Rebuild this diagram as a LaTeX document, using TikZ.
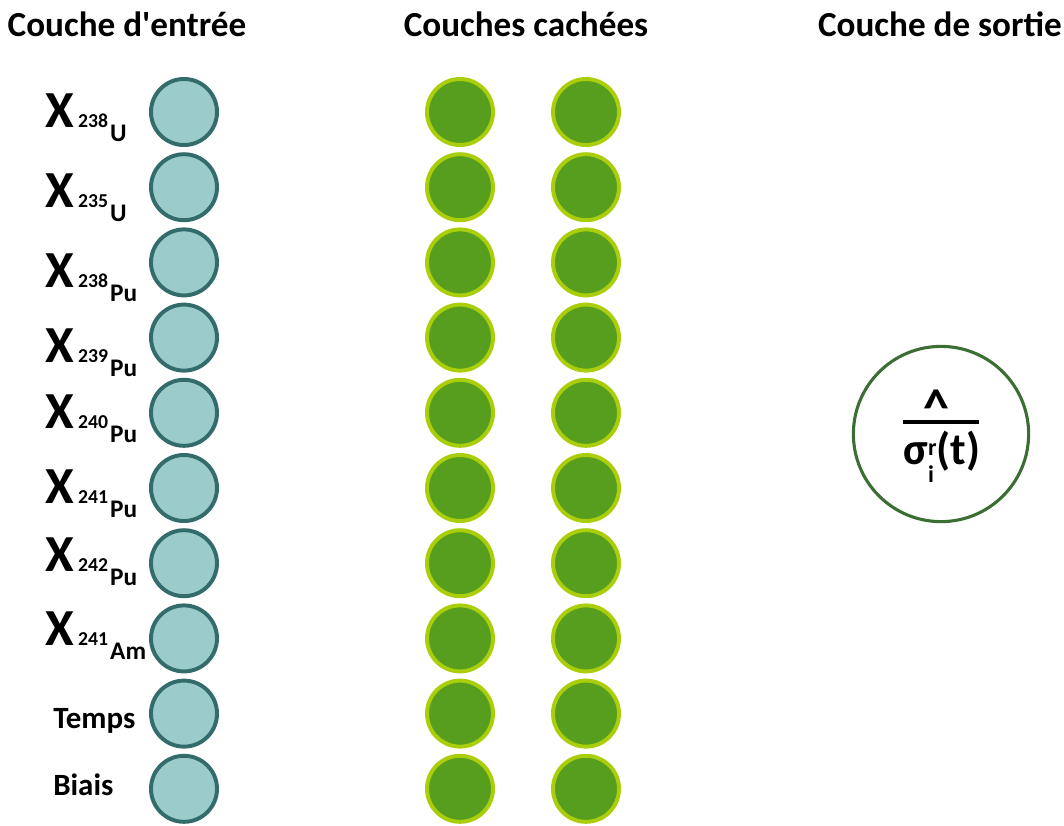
\documentclass[tikz,border=0pt]{standalone}
\usepackage{fontspec}
\setmainfont{Carlito}
\usepackage{xcolor}
\usepackage{tikz}
\usetikzlibrary{positioning}

\definecolor{infill}{HTML}{9BCBCB}
\definecolor{inedge}{HTML}{346B6B}
\definecolor{hidfill}{HTML}{579E1F}
\definecolor{hidedge}{HTML}{AACE0A}
\definecolor{outedge}{HTML}{3A6E32}

% X with isotope sub-label
\newcommand{\isotope}[2]{{\fontsize{37}{37}\selectfont X}\hspace{3pt}%
  {\fontsize{14}{14}\selectfont #1}\hspace{1.5pt}%
  \raisebox{-10pt}{\fontsize{18}{18}\selectfont #2}}

\begin{document}
\begin{tikzpicture}[
    x=0.025cm, y=-0.025cm,
    neuron/.style={circle, line width=2.8pt, minimum size=1.65cm, inner sep=0pt},
    inpt/.style={neuron, draw=inedge, fill=infill},
    hid/.style ={neuron, draw=hidedge, fill=hidfill},
    outp/.style={circle, draw=outedge, line width=2.2pt, minimum size=4.38cm, inner sep=0pt},
    head/.style={anchor=base, inner sep=0pt, font=\fontsize{25}{28}\selectfont\bfseries},
    lbl/.style ={anchor=base west, inner sep=0pt, font=\bfseries},
    word/.style={lbl, font=\fontsize{22}{22}\selectfont\bfseries}
  ]
    \useasboundingbox (0,0) rectangle (1064,825);

    % column headers
    \node[head] (hin)  at (127,36) {Couche d\textquotesingle entrée};
    \node[head] (hhid) at (526,36) {Couches cachées};
    \node[head] (hout) at (940,36) {Couche de sortie};

    % neurons, input and hidden layers
    \foreach \i in {1,...,10} {
      \node[inpt] (in\i) at (184,{112+75.2*(\i-1)}) {};
      \node[hid]  (ha\i) at (460,{112+75.2*(\i-1)}) {};
      \node[hid]  (hb\i) at (586,{112+75.2*(\i-1)}) {};
    }

    % input labels
    \foreach \i/\y/\n/\e in {1/127/238/U, 2/207/235/U, 3/287/238/Pu, 4/362/239/Pu,
        5/428/240/Pu, 6/503/241/Pu, 7/571/242/Pu, 8/645/241/Am}
      \node[lbl] (lab\i) at (45,\y) {\isotope{\n}{\e}};
    \node[word] (lab9)  at (53,728) {Temps};
    \node[word] (lab10) at (53,795) {Biais};

    % output neuron
    \node[outp] (out) at (941,434) {};
    \node[anchor=base, inner sep=0pt, font=\fontsize{37}{37}\selectfont\bfseries] (hat) at (936,425) {\textasciicircum};
    \node[fill=black, minimum width=1.9cm, minimum height=2.2pt, inner sep=0pt] (bar) at (941,422) {};
    \node[anchor=base, inner sep=0pt, font=\fontsize{32}{32}\selectfont\bfseries] (sig) at (942,464)
      {σ\rlap{\raisebox{-13pt}{\fontsize{17}{17}\selectfont i}}\raisebox{6pt}{\fontsize{17}{17}\selectfont r}(t)};
\end{tikzpicture}
\end{document}
